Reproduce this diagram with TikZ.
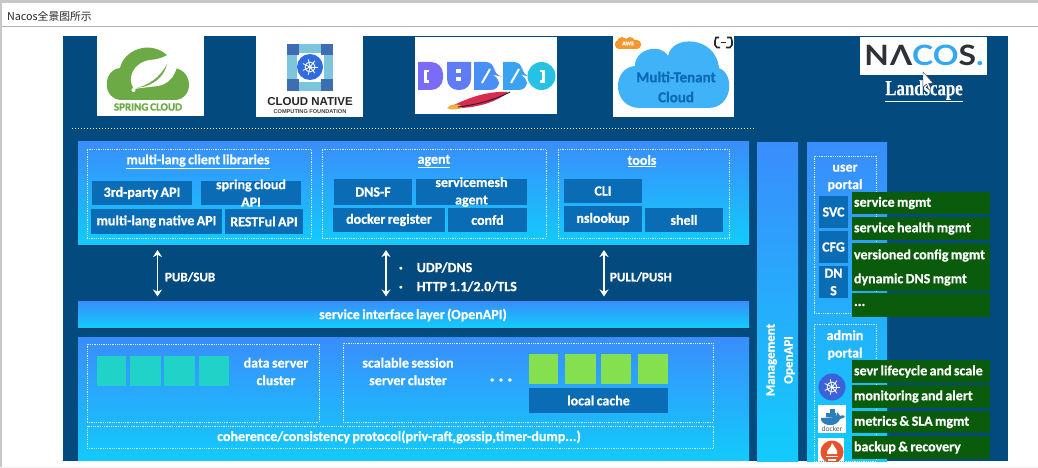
\documentclass[tikz,border=0pt]{standalone}
\usetikzlibrary{arrows.meta}
\usepackage{fontspec}
\setmainfont{Carlito}[BoldFeatures={FakeBold=0.7},WordSpace=0.75]
\newfontfamily\cjk{Noto Sans CJK SC}
\newfontfamily\logofont{Lato}
\newfontfamily\serifl{Liberation Serif}[BoldFeatures={FakeBold=0.5}]
\newfontfamily\arial{Liberation Sans}
\definecolor{navy}{HTML}{034A7E}
\definecolor{navyd}{HTML}{023A66}
\definecolor{ptop}{HTML}{3A8DFC}
\definecolor{pbot}{HTML}{12CBFB}
\definecolor{cellblue}{HTML}{0A6CB4}
\definecolor{gbox}{HTML}{0B5B0C}
\definecolor{teal}{HTML}{20D2C8}
\definecolor{lime}{HTML}{84E04E}
\definecolor{springg}{HTML}{6BAA45}
\definecolor{cnblue}{HTML}{3F6DB2}
\definecolor{cnlight}{HTML}{7CC5DC}
\definecolor{wheelb}{HTML}{2F6CE0}
\definecolor{cloudb}{HTML}{40B2F8}
\definecolor{awso}{HTML}{F7962B}
\definecolor{k8sb}{HTML}{3B62D8}
\definecolor{promo}{HTML}{E6522C}
\definecolor{nacosb}{HTML}{36A8F2}
\definecolor{nacosd}{HTML}{2E3238}
\definecolor{dub1}{HTML}{7A6CF8}
\definecolor{dub2}{HTML}{5F7CF5}
\definecolor{dub3}{HTML}{4A8FF5}
\definecolor{dub4}{HTML}{3AA2F0}
\definecolor{dub5}{HTML}{26C2E6}
\definecolor{feathr}{HTML}{D92B4E}
\definecolor{feathy}{HTML}{F0B040}
\definecolor{feathd}{HTML}{241A3A}
\definecolor{whale}{HTML}{2C7FB8}
\tikzset{
  x=1pt,y=-1pt,
  lay/.style={inner sep=0pt,outer sep=0pt},
  panel/.style={lay,top color=ptop,bottom color=pbot},
  cell/.style={lay,fill=cellblue,text=white,font=\fontsize{14}{16}\selectfont\bfseries},
  greenbox/.style={lay,fill=gbox,text=white,font=\fontsize{14}{16}\selectfont\bfseries},
  dashbox/.style={lay,draw=white!85!cyan,densely dotted,line width=0.8pt},
  logobox/.style={lay,fill=white},
  label/.style={lay,text=white,align=center,font=\fontsize{14}{17.5}\selectfont\bfseries},
  biarrow/.style={draw=white,line width=1.9pt,{Stealth[length=7pt,width=9pt]}-{Stealth[length=7pt,width=9pt]}},
}
\newcommand{\rbox}[7]{%
  \pgfmathsetmacro\myCx{(#3+#5)/2}\pgfmathsetmacro\myCy{(#4+#6)/2}%
  \pgfmathsetmacro\myW{#5-#3}\pgfmathsetmacro\myH{#6-#4}%
  \node[#2,minimum width=\myW pt,minimum height=\myH pt] (#1) at (\myCx,\myCy) {#7};}
\newcommand{\gt}[1]{\makebox[134pt][l]{#1}}
\newcommand{\wheel}[3]{% cx cy r
  \begin{scope}[shift={(#1,#2)}]
    \draw[white,line width=0.9pt] (0,0) circle[radius=#3*0.62];
    \foreach \a in {0,51.4,...,309}{\draw[white,line width=0.8pt] (0,0) -- (\a:#3);}
    \fill[white] (0,0) circle[radius=#3*0.22];
  \end{scope}}
\begin{document}
\begin{tikzpicture}
\useasboundingbox (0,0) rectangle (1038,468);
% window
\fill[white] (0,0) rectangle (1038,468);
\fill[black!22!white] (0,0) rectangle (1038,3);
\fill[black!22!white] (0,3) rectangle (2,468);
\fill[black!6!white] (0,466.5) rectangle (1038,468);
\draw[black!30!white,line width=0.8pt] (2,26) -- (1038,26);
\node[lay,anchor=west,font=\fontsize{10.8}{12}\selectfont\cjk,text=black!85] (title) at (7,16) {Nacos全景图所示};
% backdrop
\rbox{back}{lay,fill=navy}{63}{36}{1008}{461}{}
% logo: spring cloud
\rbox{spring}{logobox}{97}{36}{204}{116}{}
\fill[springg] (122,100) .. controls (102,100) and (102,70) .. (120,68)
  .. controls (124,50) and (150,39) .. (168,56)
  .. controls (172,58) and (175,64) .. (174,68)
  .. controls (194,70) and (194,100) .. (174,100) -- cycle;
\fill[white] (134,89) .. controls (126,78) and (134,62) .. (150,60)
  .. controls (162,59) and (170,55) .. (176,47)
  .. controls (182,68) and (172,84) .. (158,86)
  .. controls (150,87) and (140,88) .. (134,89) -- cycle;
\fill[springg] (137,88) .. controls (148,85) and (160,78) .. (167,64)
  .. controls (164,78) and (152,86) .. (137,88) -- cycle;
\fill[white] (133.5,90) circle[radius=2];
\node[lay,text=springg,font=\fontsize{11}{12}\selectfont\bfseries] (springtxt) at (148,107) {SPRING CLOUD};
% logo: cncf
\rbox{cncf}{logobox}{256}{36}{363}{117}{}
\fill[cnblue] (287,44) rectangle (333,91);
\fill[cnlight] (298,44) rectangle (322,91);
\fill[cnlight] (287,55) rectangle (333,80);
\fill[white] (297,53) rectangle (324,82);
\fill[cnblue] (287,44) rectangle (299,55);
\fill[cnblue] (321,44) rectangle (333,55);
\fill[cnblue] (287,79) rectangle (299,91);
\fill[cnblue] (321,79) rectangle (333,91);
\fill[wheelb] (310,67) circle[radius=13];
\wheel{310}{67}{8}
\node[lay,text=black!85,font=\fontsize{11.5}{13}\selectfont\arial\bfseries] (cn1) at (310,102) {CLOUD NATIVE};
\node[lay,text=black!75,font=\fontsize{5.6}{7}\selectfont\arial\bfseries] (cn2) at (310,112) {COMPUTING FOUNDATION};
% logo: dubbo
\rbox{dubbo}{logobox}{415}{37}{557}{114}{}
% D
\fill[dub1] (418,62) [rounded corners=12pt] -- (443,62) -- (443,90) [sharp corners] -- (418,90) -- cycle;
\fill[white] (424,70) rectangle (429,83);
\fill[dub1] (427,72.5) rectangle (430,80.5);
% U
\fill[dub2] (447,62) -- (471,62) [rounded corners=11pt] -- (471,90) -- (447,90) [sharp corners] -- cycle;
\fill[white] (456,69) rectangle (461,73.5); \fill[white] (456,77) rectangle (461,81.5);
% B
\fill[dub3] (474,62) [rounded corners=8pt] -- (494,62) -- (494,75) -- (499,76) -- (499,90) [sharp corners] -- (474,90) -- cycle;
\draw[white,line width=2pt] (482,83) -- (490,69);
% B
\fill[dub4] (503,62) [rounded corners=8pt] -- (522,62) -- (522,75) -- (527,76) -- (527,90) [sharp corners] -- (503,90) -- cycle;
\draw[white,line width=2pt] (511,83) -- (519,69);
% O
\fill[dub5] (541.5,76) circle[radius=14];
\fill[white] (540,70) rectangle (545,83);
\fill[dub5] (539,72.5) rectangle (542,80.5);
% feather
\fill[feathr] (452,106) .. controls (472,96) and (490,91) .. (508,92)
  .. controls (495,104) and (470,109) .. (452,108) -- cycle;
\fill[feathy] (447,108) .. controls (450,104) and (456,104) .. (460,105) -- (462,108) .. controls (456,110) and (450,110) .. (447,108) -- cycle;
\draw[feathd,line width=0.9pt] (458,107) .. controls (475,105) and (495,100) .. (510,92);
% logo: multi-tenant
\rbox{mtc}{logobox}{613}{36}{734}{117}{}
\fill[cloudb] (640,108) .. controls (612,108) and (611,68) .. (635,66)
  .. controls (634,50) and (660,42) .. (668,56)
  .. controls (672,34) and (716,36) .. (719,68)
  .. controls (735,74) and (733,108) .. (708,108) -- cycle;
\node[lay,text=cellblue,align=center,font=\fontsize{15}{20}\selectfont\bfseries] (mtctxt) at (676,87) {Multi-Tenant\\Cloud};
\fill[awso,rounded corners=4pt] (615,40) rectangle (641,49);
\fill[awso] (622,42) circle[radius=5]; \fill[awso] (630,42) circle[radius=5];
\node[lay,text=white,font=\fontsize{6}{7}\selectfont\bfseries] (awstxt) at (628,43.5) {AWS};
\draw[black!85,line width=1.6pt] (719,37.5) -- (716,37.5) -- (715,41) -- (715,45) -- (717,47.5) -- (720,47.5);
\draw[black!85,line width=1.6pt] (727,37.5) -- (731,37.5) -- (732,41) -- (732,45) -- (730,47.5) -- (726,47.5);
\draw[black!85,line width=1pt] (721,42.5) -- (726,42.5);
% logo: nacos
\rbox{nacos}{logobox}{860}{37}{987}{75}{}
\node[lay,xscale=1.14,font=\fontsize{28}{30}\selectfont\logofont\bfseries,text=nacosd] (nacostxt) at (924,55) {N\hspace{1pt}Λ\textcolor{nacosb}{CO}S\textcolor{nacosb}{.}};
\node[lay,xscale=0.78,text=white,font=\fontsize{21.5}{22}\selectfont\serifl\bfseries] (landscape) at (924,91) {\underline{Landscape}};
\fill[white,draw=black!70,line width=0.4pt] (923,72) -- (923,87) -- (926.5,84) -- (929,90) -- (931,89) -- (928.5,83.5) -- (933,83) -- cycle;
% dotted divider
\coordinate (divL) at (72,129); \coordinate (divR) at (755,129);
\draw[white,dotted,line width=1pt] (divL) -- (divR);
% top panel
\fill[navyd] (78,244) rectangle (749,246);
\rbox{toppanel}{panel}{78}{141}{749}{244}{}
\rbox{clientbox}{dashbox}{87}{149}{311}{238}{}
\rbox{agentbox}{dashbox}{322}{149}{546}{238}{}
\rbox{toolsbox}{dashbox}{558}{149}{729}{238}{}
\node[label] (clienth) at (198,161.5) {\underline{multi-lang client libraries}};
\node[label] (agenth) at (434,161.5) {\underline{agent}};
\node[label] (toolsh) at (642,161) {\underline{tools}};
\rbox{c3rd}{cell}{92}{181}{192}{205}{3rd-party API}
\rbox{cspring}{cell}{201}{181}{301}{205}{}
\node[label] (cspringt) at (cspring.center) {spring cloud\\API};
\rbox{cnative}{cell}{91}{209}{222}{234}{multi-lang native API}
\rbox{crest}{cell}{225}{209}{303}{234}{RESTFul API}
\rbox{adns}{cell}{334}{179}{412}{205}{DNS-F}
\rbox{amesh}{cell}{416}{179}{527}{205}{}
\node[label] (ameshc) at (amesh.center) {servicemesh\\agent};
\rbox{adock}{cell}{333}{208}{445}{232}{docker register}
\rbox{aconf}{cell}{448}{208}{527}{232}{confd}
\rbox{tcli}{cell}{564}{179}{642}{203}{CLI}
\rbox{tns}{cell}{564}{206}{642}{232}{nslookup}
\rbox{tshell}{cell}{645}{208}{723}{232}{shell}
% service layer
\fill[navyd] (78,327) rectangle (749,329);
\rbox{svclayer}{panel}{78}{301}{749}{327}{}
\node[label] (svct) at (413,315) {service interface layer (OpenAPI)};
% arrows
\coordinate (a1t) at (157.5,250); \coordinate (a1b) at (157.5,296.5);
\coordinate (a2t) at (386,250); \coordinate (a2b) at (386,296.5);
\coordinate (a3t) at (604,250); \coordinate (a3b) at (604,296.5);
\draw[biarrow] (a1t) -- (a1b);
\draw[biarrow] (a2t) -- (a2b);
\draw[biarrow] (a3t) -- (a3b);
\node[label,anchor=west,font=\fontsize{13}{15}\selectfont\bfseries] (pubsub) at (165,277) {PUB/SUB};
\node[label,anchor=west,font=\fontsize{13}{15}\selectfont\bfseries] (pullpush) at (610,277) {PULL/PUSH};
\node[label,anchor=west,align=left,font=\fontsize{14}{19}\selectfont\bfseries] (proto) at (399,277) {·\hspace{14pt}UDP/DNS\\·\hspace{14pt}HTTP 1.1/2.0/TLS};
% bottom panel
\rbox{botpanel}{panel}{78}{337}{749}{460}{}
\rbox{databox}{dashbox}{87}{344}{319}{422}{}
\rbox{sessbox}{dashbox}{343}{343}{713}{422}{}
\rbox{cohbox}{dashbox}{87}{426}{713}{448}{}
\rbox{t1}{lay,fill=teal}{97}{356}{126}{386}{}
\rbox{t2}{lay,fill=teal}{130}{356}{161}{386}{}
\rbox{t3}{lay,fill=teal}{164}{356}{195}{386}{}
\rbox{t4}{lay,fill=teal}{199}{356}{229}{386}{}
\rbox{g1}{lay,fill=lime}{529}{354}{558}{384}{}
\rbox{g2}{lay,fill=lime}{565}{354}{596}{384}{}
\rbox{g3}{lay,fill=lime}{601}{354}{631}{384}{}
\rbox{g4}{lay,fill=lime}{638}{354}{668}{384}{}
\rbox{lcache}{cell}{529}{388}{668}{413}{local cache}
\node[label] (dst) at (276,371.5) {data server\\cluster};
\node[label] (sst) at (408,371.5) {scalable session\\server cluster};
\node[label,font=\fontsize{20}{20}\selectfont\bfseries] (dots) at (501,380) {.\hspace{3.5pt}.\hspace{3.5pt}.};
\node[label] (coht) at (399,437) {coherence/consistency protocol(priv-raft,gossip,timer-dump...)};
% management bar
\rbox{mgmt}{panel}{757}{142}{798}{461}{}
\node[label,rotate=90,font=\fontsize{13}{18}\selectfont\bfseries] (mgmtt) at (780.5,360) {Management\\OpenAPI};
% portals
\rbox{portal}{panel}{807}{142}{887}{461}{}
\rbox{userbox}{dashbox}{814}{156}{876}{313}{}
\rbox{adminbox}{dashbox}{814}{324}{876}{461}{}
\node[label] (usert) at (845,178) {user\\portal};
\node[label] (admint) at (845,345) {admin\\portal};
\rbox{svc}{cell}{819}{196}{848}{228}{SVC}
\rbox{cfg}{cell}{819}{231}{848}{263}{CFG}
\rbox{dnsc}{cell}{819}{266}{848}{298}{}
\node[label] (dnst) at (dnsc.center) {DN\\S};
\rbox{u1}{greenbox}{852}{192}{990}{214}{\gt{service mgmt}}
\rbox{u2}{greenbox}{852}{217}{990}{240}{\gt{service health mgmt}}
\rbox{u3}{greenbox}{852}{243}{990}{268}{\gt{versioned config mgmt}}
\rbox{u4}{greenbox}{852}{268}{990}{291}{\gt{dynamic DNS mgmt}}
\rbox{u5}{greenbox}{852}{293}{990}{317}{\gt{...}}
\rbox{m1}{greenbox}{852}{360}{990}{383}{\gt{sevr lifecycle and scale}}
\rbox{m2}{greenbox}{852}{385}{990}{408}{\gt{monitoring and alert}}
\rbox{m3}{greenbox}{852}{411}{990}{433}{\gt{metrics \& SLA mgmt}}
\rbox{m4}{greenbox}{852}{436}{990}{459}{\gt{backup \& recovery}}
% admin icons
\fill[k8sb] (832,387) circle[radius=13.5];
\wheel{832}{387}{8}
\rbox{dockerbg}{logobox}{818}{405}{846}{433}{}
\fill[whale] (821,420) .. controls (824,427) and (837,427) .. (840,419) .. controls (843,419) and (845,417) .. (845,416) .. controls (843,415) and (841,415) .. (840,416) .. controls (839,414) and (838,413) .. (837,412) -- (836,417) -- (821,418) -- cycle;
\fill[whale] (826,413) rectangle (836,417);
\fill[whale] (830,409) rectangle (835,413);
\node[lay,text=black!65,font=\fontsize{7.5}{8}\selectfont] (dockert) at (832,428.5) {docker};
\rbox{prombg}{logobox}{818}{438}{844}{461}{}
\begin{scope}
\clip (818,438) rectangle (844,461);
\fill[promo] (832,452) circle[radius=11.5];
\fill[white] (827,454) .. controls (826,449) and (831,449) .. (832,443) .. controls (835,448) and (838,450) .. (837,454) -- cycle;
\fill[white] (826,455.5) rectangle (838,457);
\fill[white] (828,458.5) rectangle (836,461);
\end{scope}
\end{tikzpicture}
\end{document}
